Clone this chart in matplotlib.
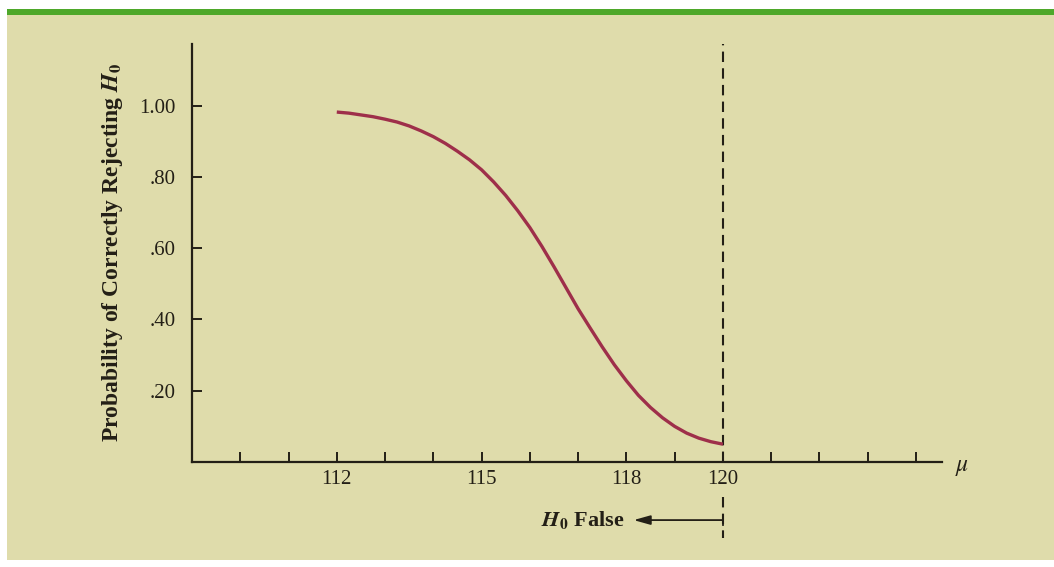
import matplotlib.pyplot as plt
from matplotlib.patches import Rectangle

# Power curve values
mu = [112.00, 112.25, 112.50, 112.75, 113.00, 113.25, 113.50, 113.75,
      114.00, 114.25, 114.50, 114.75, 115.00, 115.25, 115.50, 115.75,
      116.00, 116.25, 116.50, 116.75, 117.00, 117.25, 117.50, 117.75,
      118.00, 118.25, 118.50, 118.75, 119.00, 119.25, 119.50, 119.75, 120.00]
power = [0.982, 0.979, 0.974, 0.969, 0.962, 0.954, 0.943, 0.929,
         0.913, 0.894, 0.872, 0.848, 0.820, 0.786, 0.748, 0.705,
         0.658, 0.605, 0.548, 0.489, 0.430, 0.376, 0.323, 0.273,
         0.228, 0.187, 0.153, 0.124, 0.100, 0.081, 0.067, 0.057, 0.050]

x_ticks = list(range(110, 125))
x_labeled = [112, 115, 118, 120]
y_ticks = [0.20, 0.40, 0.60, 0.80, 1.00]
y_ticklabels = ['.20', '.40', '.60', '.80', '1.00']
mu0 = 120

plt.rcParams['font.family'] = ['Liberation Serif', 'DejaVu Serif']
plt.rcParams['mathtext.fontset'] = 'stix'

ink = '#231f16'
bg = '#dfdcab'

W, H = 1054, 567
fig = plt.figure(figsize=(W / 100, H / 100), dpi=100)
fig.patch.set_facecolor('white')

# beige panel and green top strip
fig.add_artist(Rectangle((7 / W, 1 - 560 / H), 1 - 7 / W, (560 - 15) / H,
                         transform=fig.transFigure, facecolor=bg, edgecolor='none', zorder=0))
fig.add_artist(Rectangle((7 / W, 1 - 15 / H), 1 - 7 / W, 6 / H,
                         transform=fig.transFigure, facecolor='#4ea82a', edgecolor='none', zorder=0))

ax = fig.add_axes([192 / W, 1 - 462 / H, (942 - 192) / W, (462 - 44) / H])
ax.set_facecolor('none')
ax.set_xlim(109, 124.54)
ax.set_ylim(0, 1.173)

for s in ['top', 'right']:
    ax.spines[s].set_visible(False)
for s in ['left', 'bottom']:
    ax.spines[s].set_color(ink)
    ax.spines[s].set_linewidth(1.6)

ax.set_xticks(x_ticks)
ax.set_xticklabels([str(t) if t in x_labeled else '' for t in x_ticks])
ax.set_yticks(y_ticks)
ax.set_yticklabels(y_ticklabels)
ax.tick_params(axis='x', direction='in', length=7, width=1.4, color=ink,
               labelsize=15, labelcolor=ink, pad=6)
ax.tick_params(axis='y', direction='in', length=7, width=1.4, color=ink,
               labelsize=15, labelcolor=ink, pad=12)

ax.plot(mu, power, color='#9e2f4a', lw=2.4, solid_capstyle='butt',
        solid_joinstyle='round', zorder=3)

# dashed line at mu0
ax.plot([mu0, mu0], [0, 1.173], color=ink, lw=1.5, linestyle=(0, (5, 3)), clip_on=False)
ax.plot([mu0, mu0], [-0.098, -0.213], color=ink, lw=1.5, linestyle=(0, (5, 3)), clip_on=False)

# H0 False arrow
ax.annotate('', xy=(118.15, -0.163), xytext=(mu0, -0.163), xycoords='data',
            annotation_clip=False,
            arrowprops=dict(arrowstyle='-|>,head_length=1.0,head_width=0.28',
                            color=ink, lw=1.3, shrinkA=0, shrinkB=0))
ax.plot([mu0, mu0], [-0.15, -0.176], color=ink, lw=1.3, clip_on=False)
ax.text(117.95, -0.163, r'$\mathbfit{H}_\mathbf{0}$ False', ha='right', va='center',
        fontsize=16, fontweight='bold', color=ink)

ax.text(124.8, -0.015, r'$\mu$', ha='left', va='center', fontsize=17, color=ink)

ax.set_ylabel(r'Probability of Correctly Rejecting $\mathbfit{H}_\mathbf{0}$',
              fontsize=17, fontweight='bold', color=ink)
ax.yaxis.set_label_coords(-0.089, 0.5)

fig.savefig('out.png', dpi=100, facecolor='white')
